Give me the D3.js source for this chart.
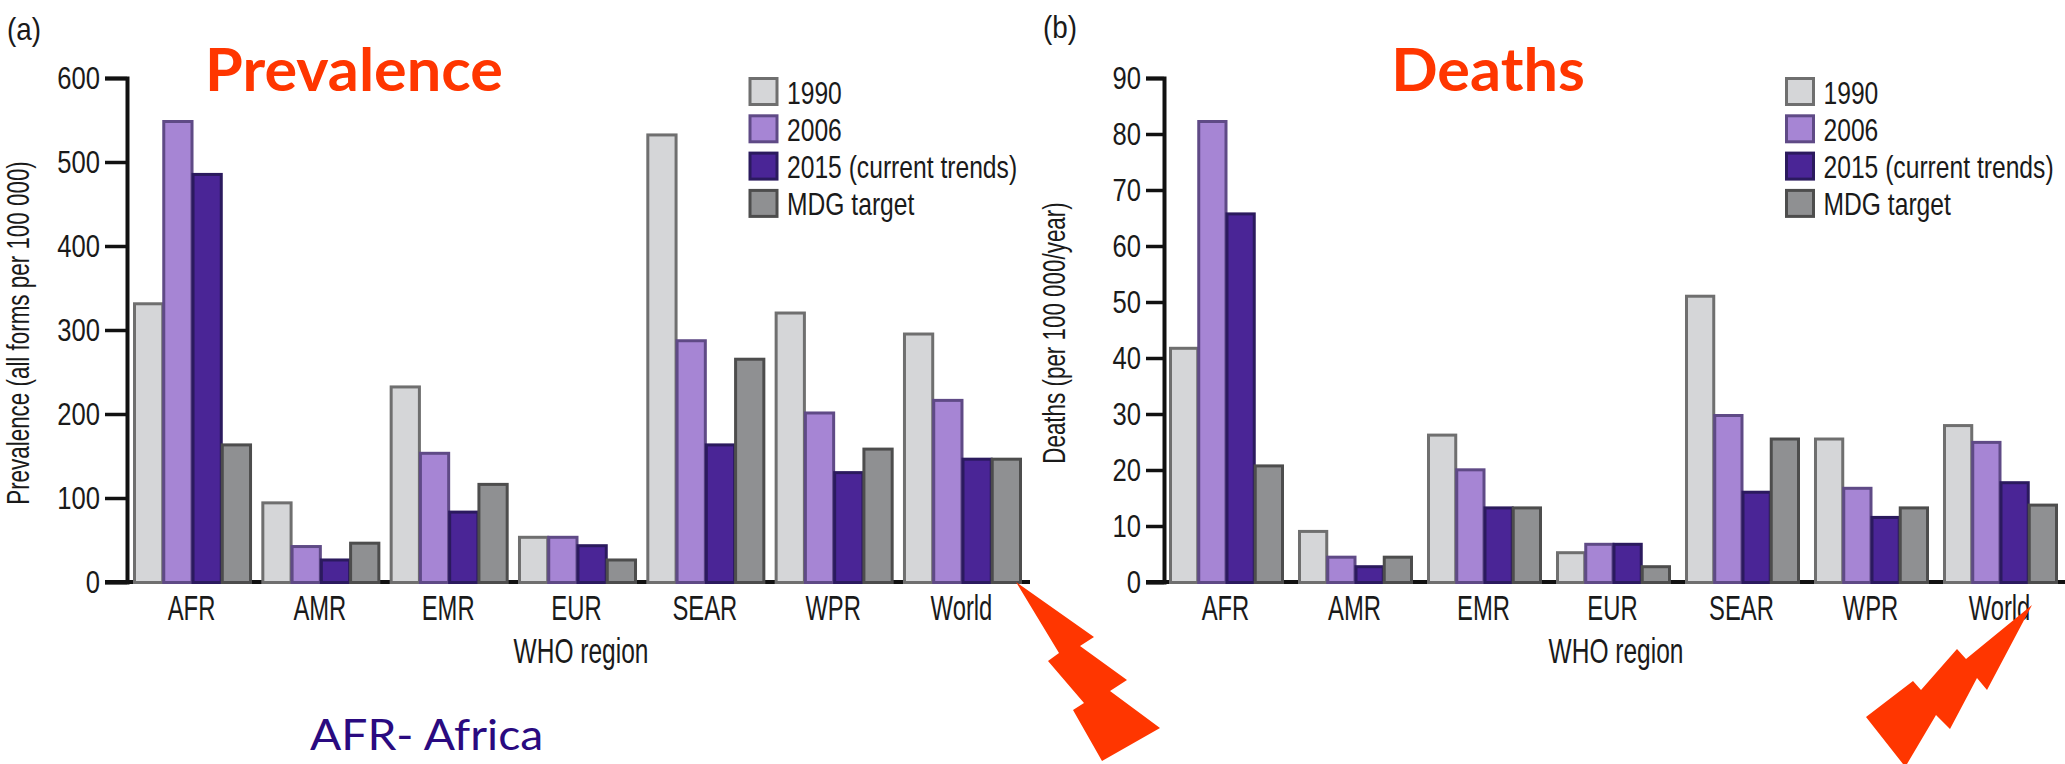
<!DOCTYPE html>
<html>
<head>
<meta charset="utf-8">
<script src="https://cdnjs.cloudflare.com/ajax/libs/d3/7.8.5/d3.min.js"></script>
<style>
  html, body { margin: 0; padding: 0; background: #fff; }
  svg { display: block; }
  text { font-family: "Liberation Sans", sans-serif; fill: #1a1a1a; }
  .hand { font-family: "Comic Sans MS", "Lato", "Noto Sans", sans-serif; }
</style>
</head>
<body>
<div id="chart"></div>
<script>
// the data
var regions = ["AFR", "AMR", "EMR", "EUR", "SEAR", "WPR", "World"];
var seriesNames = ["1990", "2006", "2015 (current trends)", "MDG target"];

var prev1990 = [333, 96, 234, 55, 534, 322, 297];
var prev2006 = [550, 44, 155, 55, 289, 203, 218];
var prev2015 = [487, 28, 85, 45, 165, 132, 148];
var prevMdg = [165, 48, 118, 28, 267, 160, 148];

var deaths1990 = [42, 9.3, 26.5, 5.5, 51.3, 25.8, 28.2];
var deaths2006 = [82.5, 4.7, 20.3, 7, 30, 17, 25.2];
var deaths2015 = [66, 3, 13.5, 7, 16.3, 11.8, 18];
var deathsMdg = [21, 4.7, 13.5, 3, 25.8, 13.5, 14];

var prevTicks = [0, 100, 200, 300, 400, 500, 600];
var deathTicks = [0, 10, 20, 30, 40, 50, 60, 70, 80, 90];

var fills = ["#d5d6d8", "#a685d4", "#4a2596", "#8f9092"];
var strokes = ["#6f6f6f", "#5f4a86", "#2b1a5e", "#4d4d4d"];

var svg = d3.select("#chart")
  .append("svg")
    .attr("width", 2065)
    .attr("height", 764);

// the source text is a tall narrow face, none is installed so squeeze it
function squeeze(sel, k) {
  sel.each(function () {
    this.setAttribute("textLength", this.getComputedTextLength() * k);
    this.setAttribute("lengthAdjust", "spacingAndGlyphs");
  });
}

function drawPanel(opts) {
  var x = d3.scaleBand()
    .domain(regions)
    .range(opts.barRange)
    .paddingInner(opts.gap);

  var bar = d3.scaleBand()
    .domain(d3.range(4))
    .range([0, x.bandwidth()]);

  var y = d3.scaleLinear()
    .domain(opts.domain)
    .range([582, 78]);

  var g = svg.append("g");

  // baseline goes under the bars
  g.append("line")
    .attr("x1", opts.axisX - opts.tickLen)
    .attr("x2", opts.baseEnd)
    .attr("y1", 582)
    .attr("y2", 582)
    .style("stroke", "#111")
    .style("stroke-width", 4);

  // Y axis
  var yAxis = g.append("g")
    .attr("transform", "translate(" + opts.axisX + ",0)")
    .call(d3.axisLeft(y).tickValues(opts.ticks).tickSize(opts.tickLen).tickPadding(5));
  yAxis.selectAll("line").style("stroke", "#111").style("stroke-width", 3.5);
  yAxis.select("path").style("stroke", "#111").style("stroke-width", 4);
  yAxis.selectAll("text").style("font-size", "32px").attr("fill", "#1a1a1a").call(squeeze, 0.8);

  // bars
  opts.series.forEach(function (values, s) {
    g.append("g")
      .selectAll("rect")
      .data(values)
      .enter()
      .append("rect")
        .attr("x", function (d, i) { return x(regions[i]) + bar(s) + 1.5; })
        .attr("y", function (d) { return y(d) + 1.5; })
        .attr("width", bar.bandwidth() - 1)
        .attr("height", function (d) { return y(0) - y(d) - 1; })
        .style("fill", fills[s])
        .style("stroke", strokes[s])
        .style("stroke-width", 3);
  });

  // region labels
  var xAxis = g.append("g")
    .attr("transform", "translate(0,588)")
    .call(d3.axisBottom(x).tickSize(0).tickPadding(0));
  xAxis.select("path").remove();
  xAxis.selectAll("text")
    .style("font-size", "35px")
    .attr("fill", "#1a1a1a")
    .attr("dy", "0.92em")
    .call(squeeze, 0.68);

  g.append("text")
    .attr("x", opts.xTitleX)
    .attr("y", 663)
    .attr("text-anchor", "middle")
    .style("font-size", "35px")
    .text("WHO region")
    .call(squeeze, 0.7);

  g.append("text")
    .attr("transform", "translate(" + opts.yTitleX + ",333) rotate(-90)")
    .attr("text-anchor", "middle")
    .style("font-size", "32px")
    .text(opts.yTitle)
    .call(squeeze, 0.7);

  g.append("text")
    .attr("x", opts.letterX)
    .attr("y", opts.letterY)
    .style("font-size", "32px")
    .text(opts.letter)
    .call(squeeze, 0.87);

  g.append("text")
    .attr("class", "hand")
    .attr("x", opts.titleX)
    .attr("y", 91)
    .attr("text-anchor", "middle")
    .style("font-size", "60px")
    .style("font-weight", "bold")
    .style("fill", "#ff3600")
    .text(opts.title)
    .call(squeeze, 1.02);

  // legend
  var legend = g.append("g")
    .selectAll("g")
    .data(seriesNames)
    .enter()
    .append("g")
      .attr("transform", function (d, i) { return "translate(" + opts.legendX + "," + (78.5 + i * 37.3) + ")"; });
  legend.append("rect")
    .attr("width", 27)
    .attr("height", 26)
    .style("fill", function (d, i) { return fills[i]; })
    .style("stroke", function (d, i) { return strokes[i]; })
    .style("stroke-width", 3);
  legend.append("text")
    .attr("x", 37)
    .attr("y", 25)
    .style("font-size", "32px")
    .text(function (d) { return d; })
    .call(squeeze, 0.77);
}

drawPanel({
  series: [prev1990, prev2006, prev2015, prevMdg],
  domain: [0, 600],
  ticks: prevTicks,
  barRange: [133, 1020],
  gap: 0.088,
  axisX: 127,
  tickLen: 22,
  baseEnd: 1030,
  xTitleX: 581,
  yTitleX: 29,
  yTitle: "Prevalence (all forms per 100 000)",
  letter: "(a)",
  letterX: 7,
  letterY: 40,
  title: "Prevalence",
  titleX: 354,
  legendX: 750
});

drawPanel({
  series: [deaths1990, deaths2006, deaths2015, deathsMdg],
  domain: [0, 90],
  ticks: deathTicks,
  barRange: [1169, 2056],
  gap: 0.124,
  axisX: 1164,
  tickLen: 18,
  baseEnd: 2065,
  xTitleX: 1616,
  yTitleX: 1065,
  yTitle: "Deaths (per 100 000/year)",
  letter: "(b)",
  letterX: 1043,
  letterY: 38,
  title: "Deaths",
  titleX: 1488,
  legendX: 1786.5
});

// the note under the left chart
svg.append("text")
  .attr("class", "hand")
  .attr("x", 310)
  .attr("y", 750)
  .style("font-size", "42px")
  .style("fill", "#2a0a80")
  .text("AFR- Africa")
  .call(squeeze, 1.1);

// lightning bolts pointing at the World bars
var boltLeft = [[1016, 582], [1094, 637], [1080, 646], [1127, 680], [1110, 691], [1160, 728], [1102, 761], [1073, 710], [1084, 703], [1048, 661], [1059, 653]];
var boltRight = [[2032, 605], [1987, 690], [1977, 678], [1950, 729], [1936, 715], [1907, 764], [1903, 764], [1866, 717], [1913, 681], [1921, 690], [1957, 649], [1966, 659]];

svg.append("g")
  .selectAll("polygon")
  .data([boltLeft, boltRight])
  .enter()
  .append("polygon")
    .attr("points", function (d) { return d.join(" "); })
    .style("fill", "#ff3600");
</script>
</body>
</html>
